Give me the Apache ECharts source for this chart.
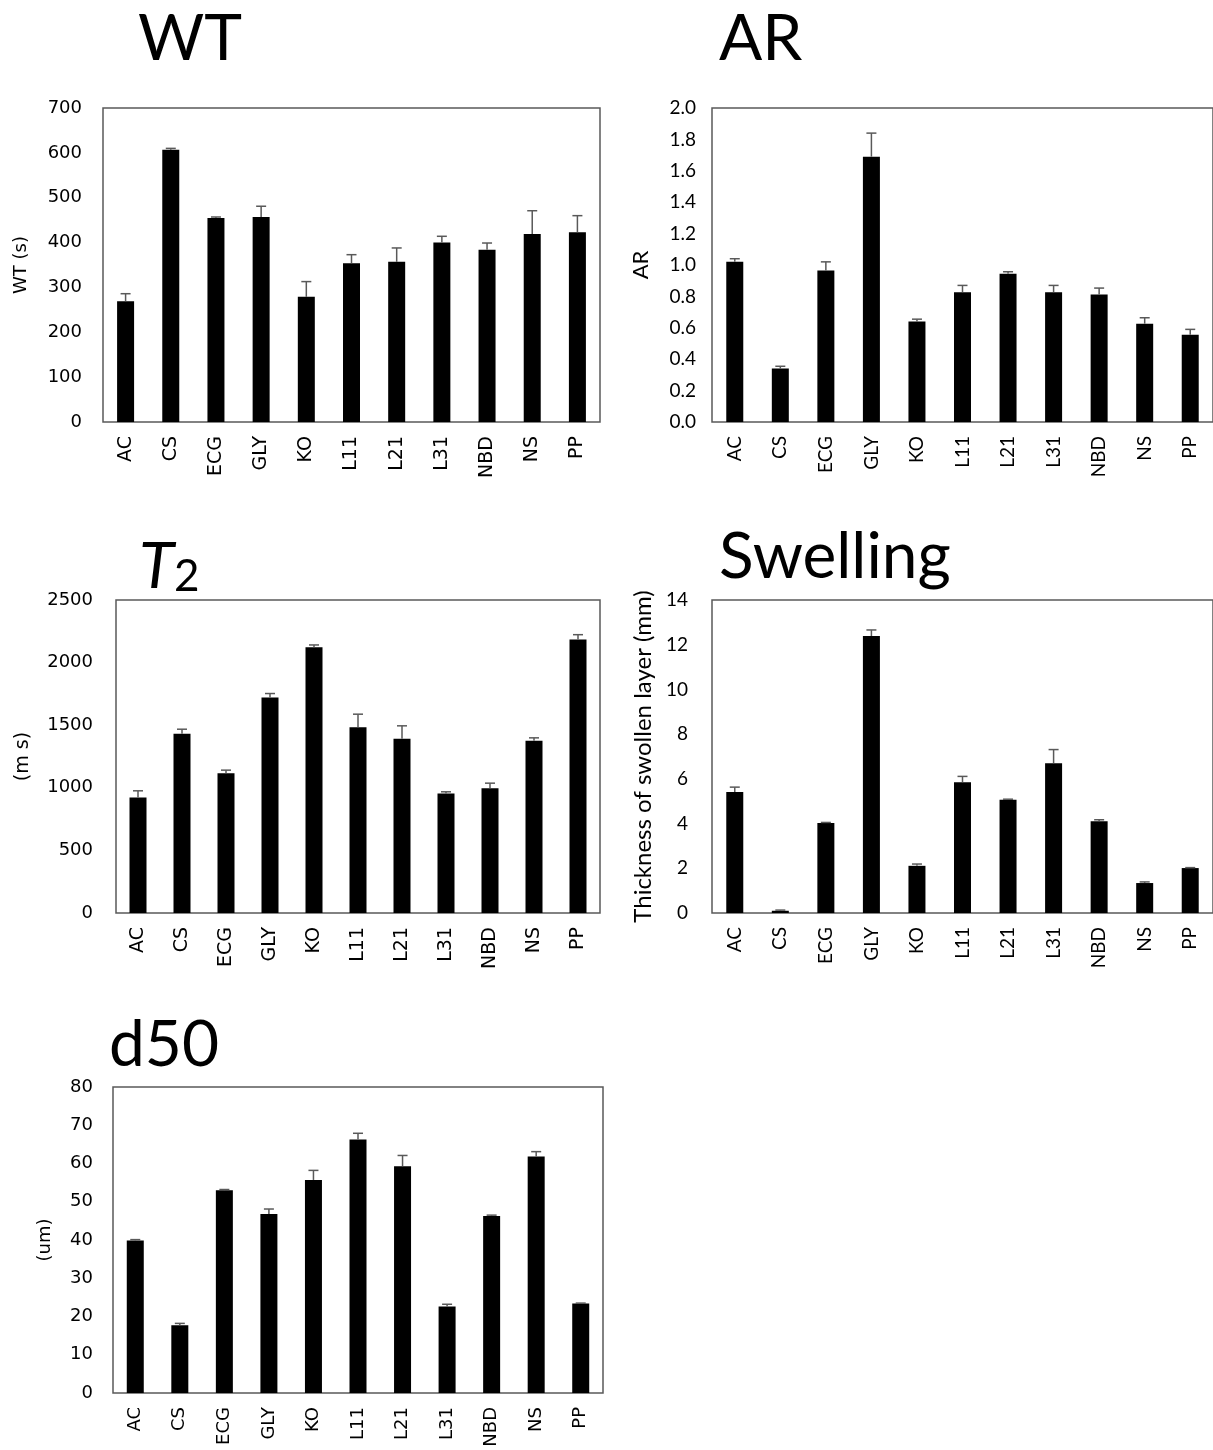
<!DOCTYPE html>
<html lang="en">
<head>
    <meta charset="UTF-8">
    <title>WT / AR / T2 / Swelling / d50</title>
    <script src="https://cdn.jsdelivr.net/npm/echarts@6/dist/echarts.min.js"></script>
    <style>
        body { margin: 0; background: #fff; }
    </style>
</head>
<body>
    <div id="main" style="width: 1213px;height:1450px;"></div>

<script type="text/javascript">
    // data (mean + upper error)
    var categories = ['AC', 'CS', 'ECG', 'GLY', 'KO', 'L11', 'L21', 'L31', 'NBD', 'NS', 'PP'];

    var wtMean = [269, 607, 455, 457, 279, 354, 357, 400, 384, 419, 423];
    var wtSd   = [17, 3, 2, 24, 34, 19, 31, 14, 15, 52, 37];

    var arMean = [1.02, 0.34, 0.965, 1.69, 0.64, 0.827, 0.944, 0.827, 0.812, 0.626, 0.556];
    var arSd   = [0.02, 0.015, 0.055, 0.15, 0.015, 0.043, 0.013, 0.043, 0.041, 0.038, 0.034];

    var t2Mean = [923, 1431, 1117, 1721, 2122, 1484, 1391, 955, 997, 1375, 2184];
    var t2Sd   = [53, 37, 24, 32, 19, 104, 104, 13, 40, 24, 39];

    var swMean = [5.41, 0.1, 4.02, 12.39, 2.11, 5.85, 5.06, 6.70, 4.10, 1.34, 2.01];
    var swSd   = [0.22, 0.03, 0.03, 0.27, 0.08, 0.26, 0.03, 0.61, 0.07, 0.05, 0.02];

    var d50Mean = [39.9, 17.7, 53.0, 46.8, 55.7, 66.3, 59.3, 22.6, 46.3, 61.8, 23.4];
    var d50Sd   = [0.2, 0.5, 0.2, 1.3, 2.5, 1.6, 2.8, 0.6, 0.2, 1.3, 0.1];

    var myChart = echarts.init(document.getElementById('main'));

    var errColor = '#595959';
    var boxColor = '#595959';
    var excelFont = 'DejaVu Sans';
    var calFont = 'Lato';

    function renderErr(params, api) {
        var base = api.coord([api.value(0), api.value(1)]);
        var top = api.coord([api.value(0), api.value(2)]);
        var st = { stroke: errColor, lineWidth: 1.5 };
        return {
            type: 'group',
            children: [
                { type: 'line', shape: { x1: base[0], y1: base[1], x2: base[0], y2: top[1] }, style: st },
                { type: 'line', shape: { x1: base[0] - 5, y1: top[1], x2: base[0] + 5, y2: top[1] }, style: st }
            ]
        };
    }

    var grids = [], xAxes = [], yAxes = [], series = [];

    // one panel = grid + axes + bars + error bars
    function panel(box, mean, sd, axis) {
        var i = grids.length;
        grids.push({
            left: box[0], top: box[1], width: box[2], height: box[3],
            show: true, borderColor: boxColor, borderWidth: 1.5,
            backgroundColor: '#fff'
        });
        xAxes.push({
            type: 'category', gridIndex: i, data: categories,
            axisLine: { show: false }, axisTick: { show: false },
            axisLabel: { rotate: 90, margin: 14, color: '#000', fontSize: axis.catSize, fontFamily: axis.font, interval: 0 }
        });
        yAxes.push({
            type: 'value', gridIndex: i, min: 0, max: axis.max, interval: axis.step,
            splitLine: { show: false }, axisLine: { show: false }, axisTick: { show: false },
            axisLabel: {
                margin: axis.labelMargin, color: '#000', fontSize: axis.tickSize, fontFamily: axis.font,
                formatter: function (v) { return axis.dec ? v.toFixed(axis.dec) : String(v); }
            },
            name: axis.name, nameLocation: 'middle', nameGap: axis.nameGap,
            nameTextStyle: { color: '#000', fontSize: axis.nameSize, fontFamily: axis.font }
        });
        series.push({
            type: 'bar', xAxisIndex: i, yAxisIndex: i, data: mean,
            barWidth: 17, itemStyle: { color: '#000' }, silent: true
        });
        var err = mean.map(function (m, k) { return [k, m, m + sd[k]]; });
        series.push({
            type: 'custom', xAxisIndex: i, yAxisIndex: i, data: err,
            renderItem: renderErr, silent: true, z: 3
        });
    }

    panel([103, 108, 497, 314], wtMean, wtSd,
        { max: 700, step: 100, name: 'WT (s)', nameGap: 73, labelMargin: 21, font: excelFont, tickSize: 18, catSize: 19, nameSize: 18 });
    panel([712, 108, 510, 314], arMean, arSd,
        { max: 2, step: 0.2, dec: 1, name: 'AR', nameGap: 60, labelMargin: 16, font: calFont, tickSize: 19, catSize: 19, nameSize: 22 });
    panel([116, 600, 484, 313], t2Mean, t2Sd,
        { max: 2500, step: 500, name: '(m s)', nameGap: 83, labelMargin: 23, font: excelFont, tickSize: 18, catSize: 19, nameSize: 19 });
    panel([712, 600, 510, 313], swMean, swSd,
        { max: 14, step: 2, name: 'Thickness of swollen layer (mm)', nameGap: 57, labelMargin: 24, font: calFont, tickSize: 19, catSize: 19, nameSize: 24 });
    panel([113, 1087, 490, 306], d50Mean, d50Sd,
        { max: 80, step: 10, name: '(um)', nameGap: 59, labelMargin: 20, font: excelFont, tickSize: 18, catSize: 18, nameSize: 18 });

    var titleStyle = { color: '#000', fontSize: 64, fontWeight: 'normal', fontFamily: calFont };

    option = {
        backgroundColor: '#fff',
        animation: false,
        title: [
            { text: 'WT', left: 133, top: 2, textStyle: titleStyle },
            { text: 'AR', left: 714, top: 2, textStyle: titleStyle },
            {
                text: '{i|T}{n|2}', left: 134, top: 520,
                textStyle: {
                    fontWeight: 'normal',
                    rich: {
                        i: { fontSize: 64, fontStyle: 'italic', fontWeight: 'normal', fontFamily: calFont, color: '#000', lineHeight: 74, verticalAlign: 'bottom' },
                        n: { fontSize: 44, fontWeight: 'normal', fontFamily: calFont, color: '#000', lineHeight: 62, verticalAlign: 'bottom' }
                    }
                }
            },
            { text: 'Swelling', left: 714, top: 520, textStyle: titleStyle },
            { text: 'd50', left: 104, top: 1008, textStyle: titleStyle }
        ],
        grid: grids,
        xAxis: xAxes,
        yAxis: yAxes,
        series: series
    };
    myChart.setOption(option);
</script>
</body>
</html>
